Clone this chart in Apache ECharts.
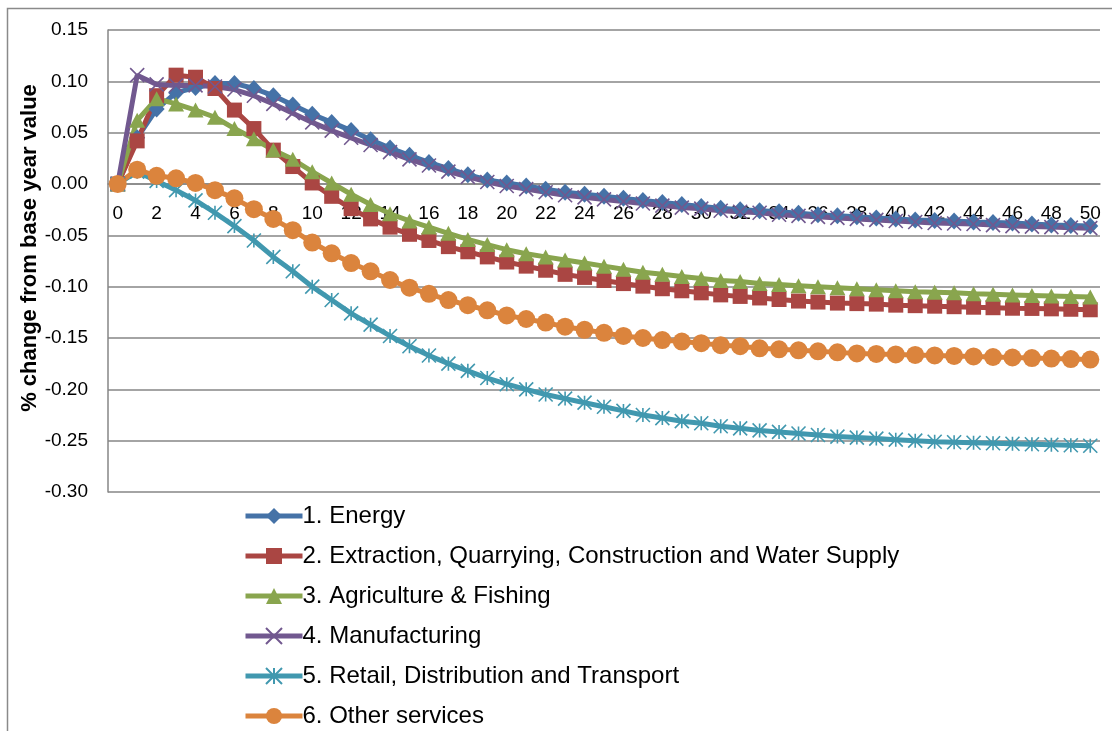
<!DOCTYPE html>
<html>
<head>
<meta charset="utf-8">
<script src="https://cdn.jsdelivr.net/npm/echarts@6/dist/echarts.min.js"></script>
<style>
html,body{margin:0;padding:0;background:#fff;}
#chart{width:1112px;height:731px;}
</style>
</head>
<body>
<div id="chart"></div>
<script>
var years = ['0','1','2','3','4','5','6','7','8','9','10','11','12','13','14','15','16','17','18','19','20','21','22','23','24','25','26','27','28','29','30','31','32','33','34','35','36','37','38','39','40','41','42','43','44','45','46','47','48','49','50'];

var energy = [0, 0.045, 0.073, 0.089, 0.094, 0.098, 0.098, 0.093, 0.086, 0.077, 0.068, 0.060, 0.052, 0.043, 0.035, 0.028, 0.021, 0.015, 0.009, 0.004, 0.001, -0.002, -0.005, -0.008, -0.010, -0.012, -0.014, -0.016, -0.018, -0.020, -0.022, -0.0235, -0.025, -0.026, -0.027, -0.0285, -0.030, -0.031, -0.032, -0.033, -0.034, -0.035, -0.0355, -0.036, -0.037, -0.0375, -0.038, -0.039, -0.040, -0.0405, -0.041];

var extraction = [0, 0.042, 0.086, 0.106, 0.104, 0.093, 0.072, 0.054, 0.033, 0.017, 0.001, -0.012, -0.024, -0.034, -0.042, -0.049, -0.055, -0.061, -0.066, -0.071, -0.076, -0.080, -0.084, -0.088, -0.091, -0.094, -0.097, -0.0995, -0.102, -0.104, -0.106, -0.108, -0.1095, -0.111, -0.1125, -0.114, -0.115, -0.116, -0.1165, -0.117, -0.118, -0.1185, -0.119, -0.1195, -0.120, -0.1205, -0.121, -0.1212, -0.1216, -0.122, -0.1225];

var agriculture = [0, 0.062, 0.083, 0.078, 0.072, 0.065, 0.054, 0.044, 0.033, 0.024, 0.012, 0.001, -0.010, -0.020, -0.029, -0.036, -0.042, -0.048, -0.054, -0.059, -0.064, -0.068, -0.071, -0.074, -0.077, -0.080, -0.083, -0.086, -0.088, -0.090, -0.092, -0.094, -0.095, -0.097, -0.098, -0.099, -0.100, -0.101, -0.102, -0.103, -0.104, -0.105, -0.1055, -0.106, -0.107, -0.1075, -0.108, -0.1085, -0.109, -0.1095, -0.110];

var manufacturing = [0, 0.106, 0.097, 0.096, 0.096, 0.095, 0.092, 0.086, 0.078, 0.069, 0.060, 0.052, 0.045, 0.038, 0.031, 0.024, 0.018, 0.012, 0.007, 0.002, -0.002, -0.005, -0.008, -0.011, -0.013, -0.015, -0.017, -0.019, -0.021, -0.023, -0.024, -0.026, -0.027, -0.028, -0.030, -0.031, -0.032, -0.033, -0.034, -0.035, -0.036, -0.037, -0.038, -0.0385, -0.039, -0.040, -0.041, -0.0415, -0.042, -0.0425, -0.043];

var retail = [0, 0.012, 0.003, -0.006, -0.016, -0.028, -0.041, -0.055, -0.071, -0.085, -0.100, -0.113, -0.126, -0.137, -0.148, -0.158, -0.167, -0.175, -0.182, -0.189, -0.195, -0.200, -0.205, -0.209, -0.213, -0.217, -0.221, -0.225, -0.228, -0.231, -0.233, -0.236, -0.238, -0.240, -0.2415, -0.243, -0.2445, -0.246, -0.247, -0.248, -0.249, -0.250, -0.251, -0.2515, -0.252, -0.2525, -0.253, -0.2535, -0.254, -0.2545, -0.255];

var otherServices = [0, 0.014, 0.008, 0.0055, 0.001, -0.006, -0.014, -0.0245, -0.034, -0.045, -0.057, -0.0675, -0.077, -0.085, -0.0935, -0.101, -0.107, -0.113, -0.118, -0.123, -0.128, -0.1315, -0.135, -0.139, -0.142, -0.145, -0.148, -0.150, -0.152, -0.1535, -0.155, -0.157, -0.158, -0.160, -0.161, -0.162, -0.163, -0.164, -0.165, -0.1655, -0.166, -0.1665, -0.167, -0.1675, -0.168, -0.1685, -0.169, -0.1695, -0.170, -0.1705, -0.171];

var seriesNames = ['1. Energy', '2. Extraction, Quarrying, Construction and Water Supply', '3. Agriculture & Fishing', '4. Manufacturing', '5. Retail, Distribution and Transport', '6. Other services'];
var yTicks = {min: -0.30, max: 0.15, step: 0.05};

var FONT = '"Liberation Sans", Arial, sans-serif';
var colors = ['#4572A7', '#AA4643', '#89A54E', '#71588F', '#4198AF', '#DB843D'];
var symbols = ['diamond', 'rect', 'triangle', 'path://M0,0L10,10M10,0L0,10', 'path://M0,0L10,10M10,0L0,10M5,0L5,10', 'circle'];
var sizes = [[16,17], 15, [16,15], 14, 14, 18];
var allData = [energy, extraction, agriculture, manufacturing, retail, otherServices];

function mkSeries(i) {
  var isPath = symbols[i].indexOf('path://') === 0;
  return {
    name: seriesNames[i],
    type: 'line',
    data: allData[i],
    symbol: symbols[i],
    symbolSize: sizes[i],
    showAllSymbol: true,
    lineStyle: {color: colors[i], width: 5},
    itemStyle: isPath ? {color: colors[i], borderColor: colors[i], borderWidth: 1.6} : {color: colors[i], borderWidth: 0},
    emphasis: {disabled: true}
  };
}

var chart = echarts.init(document.getElementById('chart'), null, {renderer: 'canvas'});
chart.setOption({
  animation: false,
  backgroundColor: '#ffffff',
  textStyle: {fontFamily: FONT},
  grid: {left: 108, right: 12, top: 30, bottom: 239, containLabel: false},
  graphic: [
    {type: 'rect', shape: {x: 7.5, y: 8.5, width: 1300, height: 1000}, style: {fill: 'none', stroke: '#8a8a8a', lineWidth: 1.5}, silent: true},
    {type: 'text', x: 30, y: 248, rotation: Math.PI / 2,
     style: {text: '% change from base year value', font: 'bold 22px ' + FONT, fill: '#000', textAlign: 'center', textVerticalAlign: 'middle'}}
  ],
  legend: {
    orient: 'vertical',
    left: 243,
    top: 504,
    padding: 0,
    itemWidth: 57,
    itemHeight: 20,
    itemGap: 16,
    lineStyle: {width: 5},
    textStyle: {fontSize: 24, fontFamily: FONT, color: '#000', padding: [0, 0, 0, -5]},
    data: seriesNames
  },
  xAxis: {
    type: 'category',
    data: years,
    boundaryGap: true,
    offset: -308,
    axisLine: {onZero: false, lineStyle: {color: '#868686', width: 1.5}},
    axisTick: {show: false},
    axisLabel: {interval: 1, fontSize: 19, color: '#000', margin: 20, fontFamily: FONT},
    splitLine: {show: false}
  },
  yAxis: {
    type: 'value',
    min: yTicks.min,
    max: yTicks.max,
    interval: yTicks.step,
    axisLine: {show: true, lineStyle: {color: '#868686', width: 1.5}},
    axisTick: {show: false},
    axisLabel: {fontSize: 19, color: '#000', margin: 20, fontFamily: FONT, formatter: function (v) { return v.toFixed(2); }},
    splitLine: {show: true, lineStyle: {color: '#868686', width: 1.5}}
  },
  series: [0,1,2,3,4,5].map(mkSeries)
});
</script>
</body>
</html>
